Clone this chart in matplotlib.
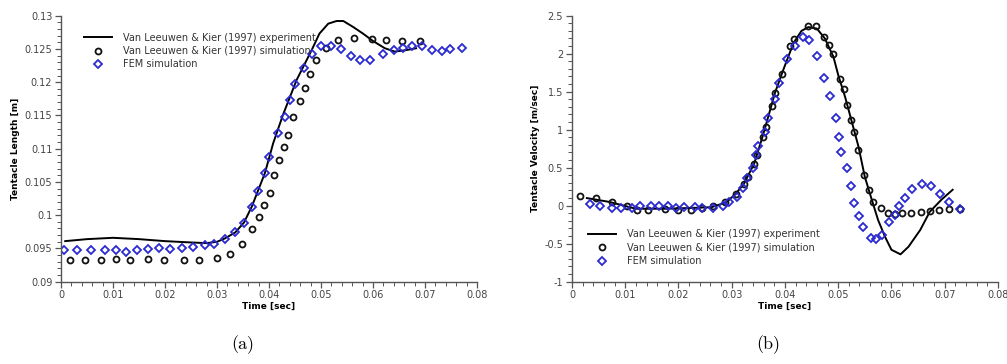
import numpy as np
import matplotlib
matplotlib.use("Agg")
import matplotlib.pyplot as plt
from matplotlib.ticker import MultipleLocator, FuncFormatter

# --- (a) tentacle length ---
len_exp_t = [0.0008, 0.005, 0.01, 0.015, 0.02, 0.025, 0.028, 0.030, 0.0315, 0.0335,
             0.0352, 0.0367, 0.0379, 0.0392, 0.0401, 0.0408, 0.0427, 0.0453, 0.0482,
             0.0497, 0.0514, 0.0530, 0.0543, 0.0562, 0.0581, 0.0600, 0.0623, 0.0642,
             0.0662, 0.0683]
len_exp_y = [0.0961, 0.0964, 0.0966, 0.0964, 0.0961, 0.0959, 0.0958, 0.0960, 0.0965, 0.0974,
             0.0989, 0.1013, 0.1037, 0.1063, 0.1088, 0.1108, 0.1151, 0.1203, 0.1248,
             0.1273, 0.1288, 0.1292, 0.1292, 0.1283, 0.1273, 0.1262, 0.1251, 0.1246,
             0.1248, 0.1251]

len_sim_t = [0.0017, 0.0047, 0.0077, 0.0106, 0.0133, 0.0167, 0.0199, 0.0237, 0.0266, 0.0300,
             0.0325, 0.0349, 0.0368, 0.0381, 0.0391, 0.0402, 0.0410, 0.0420, 0.0429, 0.0437,
             0.0447, 0.0459, 0.0470, 0.0479, 0.0491, 0.0509, 0.0532, 0.0563, 0.0598, 0.0625,
             0.0655, 0.0691]
len_sim_y = [0.0932, 0.0932, 0.0933, 0.0934, 0.0933, 0.0934, 0.0933, 0.0933, 0.0933, 0.0935,
             0.0942, 0.0956, 0.0979, 0.0997, 0.1016, 0.1034, 0.1060, 0.1083, 0.1102, 0.1121,
             0.1148, 0.1171, 0.1192, 0.1212, 0.1233, 0.1252, 0.1264, 0.1267, 0.1265, 0.1263,
             0.1262, 0.1262]

len_fem_t = [0.0006, 0.0031, 0.0057, 0.0085, 0.0105, 0.0125, 0.0147, 0.0168, 0.0188, 0.0209,
             0.0233, 0.0253, 0.0276, 0.0295, 0.0315, 0.0335, 0.0352, 0.0367, 0.0379, 0.0392,
             0.0401, 0.0418, 0.0430, 0.0440, 0.0451, 0.0467, 0.0483, 0.0501, 0.0519, 0.0538,
             0.0558, 0.0576, 0.0595, 0.0619, 0.0641, 0.0658, 0.0676, 0.0694, 0.0714, 0.0733,
             0.0749, 0.0771]
len_fem_y = [0.0948, 0.0948, 0.0948, 0.0947, 0.0947, 0.0945, 0.0948, 0.0949, 0.0951, 0.0949,
             0.0950, 0.0952, 0.0955, 0.0956, 0.0964, 0.0974, 0.0989, 0.1013, 0.1037, 0.1063,
             0.1088, 0.1123, 0.1147, 0.1173, 0.1197, 0.1222, 0.1242, 0.1254, 0.1254, 0.1250,
             0.1239, 0.1233, 0.1233, 0.1243, 0.1248, 0.1252, 0.1255, 0.1255, 0.1249, 0.1247,
             0.1250, 0.1252]

# --- (b) tentacle velocity ---
vel_exp_t = [0.0028, 0.0070, 0.012, 0.018, 0.0262, 0.029, 0.0308, 0.0323, 0.0342, 0.0358,
             0.0371, 0.0381, 0.0397, 0.0416, 0.0431, 0.0444, 0.0460, 0.0475, 0.0491, 0.0500,
             0.0513, 0.0528, 0.0538, 0.0550, 0.0563, 0.0575, 0.0588, 0.0600, 0.0617, 0.0632,
             0.0654, 0.0672, 0.0694, 0.0715]
vel_exp_v = [0.10, 0.05, -0.04, -0.04, -0.02, 0.045, 0.16, 0.29, 0.55, 0.91,
             1.23, 1.48, 1.79, 2.14, 2.30, 2.35, 2.33, 2.20, 1.96, 1.72,
             1.43, 1.04, 0.78, 0.38, 0.08, -0.19, -0.41, -0.58, -0.64, -0.54,
             -0.32, -0.08, 0.08, 0.21]

vel_sim_t = [0.0016, 0.0045, 0.0076, 0.0103, 0.0123, 0.0143, 0.0175, 0.0200, 0.0223, 0.0245,
             0.0265, 0.0287, 0.0308, 0.0323, 0.0331, 0.0342, 0.0347, 0.0358, 0.0364, 0.0375,
             0.0381, 0.0394, 0.0409, 0.0417, 0.0444, 0.0458, 0.0473, 0.0483, 0.0490, 0.0503,
             0.0510, 0.0517, 0.0524, 0.0530, 0.0538, 0.0548, 0.0558, 0.0566, 0.0580, 0.0594,
             0.0607, 0.0620, 0.0637, 0.0655, 0.0672, 0.0689, 0.0709, 0.0729]
vel_sim_v = [0.13, 0.10, 0.05, 0.00, -0.06, -0.06, -0.05, -0.06, -0.06, -0.03,
             -0.01, 0.05, 0.16, 0.29, 0.38, 0.55, 0.67, 0.91, 1.03, 1.31,
             1.48, 1.73, 2.10, 2.19, 2.37, 2.36, 2.22, 2.11, 2.00, 1.67,
             1.53, 1.32, 1.13, 0.97, 0.73, 0.41, 0.20, 0.05, -0.03, -0.09,
             -0.11, -0.10, -0.09, -0.08, -0.07, -0.06, -0.05, -0.05]

vel_fem_t = [0.0034, 0.0053, 0.0075, 0.0093, 0.0113, 0.0128, 0.0148, 0.0163, 0.0180, 0.0195,
             0.0211, 0.0231, 0.0245, 0.0264, 0.0283, 0.0295, 0.0309, 0.0321, 0.0329, 0.0340,
             0.0345, 0.0349, 0.0362, 0.0369, 0.0381, 0.0389, 0.0404, 0.0419, 0.0433, 0.0446,
             0.0461, 0.0474, 0.0485, 0.0495, 0.0502, 0.0506, 0.0516, 0.0524, 0.0530, 0.0540,
             0.0546, 0.0561, 0.0571, 0.0582, 0.0596, 0.0607, 0.0614, 0.0625, 0.0638, 0.0657,
             0.0675, 0.0691, 0.0709, 0.0729]
vel_fem_v = [0.02, -0.01, -0.03, -0.03, -0.03, -0.01, 0.00, -0.01, -0.01, -0.03,
             -0.02, -0.02, -0.03, -0.03, 0.00, 0.05, 0.12, 0.23, 0.36, 0.49,
             0.67, 0.78, 0.97, 1.15, 1.40, 1.62, 1.93, 2.10, 2.22, 2.18,
             1.97, 1.68, 1.44, 1.15, 0.90, 0.71, 0.49, 0.26, 0.03, -0.14,
             -0.28, -0.42, -0.44, -0.39, -0.22, -0.12, 0.00, 0.10, 0.22, 0.28,
             0.26, 0.16, 0.05, -0.05]

labels = ["Van Leeuwen & Kier (1997) experiment",
          "Van Leeuwen & Kier (1997) simulation",
          "FEM simulation"]

fem_color = "#2a2ad0"
tick_color = "#444444"
fs = 6.5

fig = plt.figure(figsize=(10.07, 3.64), dpi=100)
ax1 = fig.add_axes([0.0606, 0.2261, 0.413, 0.7308])
ax2 = fig.add_axes([0.568, 0.2261, 0.423, 0.7308])

fmt = FuncFormatter(lambda v, p: ("%g" % round(v, 6)).replace("\u2212", "-"))


def style(ax):
    for s in ["top", "right"]:
        ax.spines[s].set_visible(False)
    for s in ["left", "bottom"]:
        ax.spines[s].set_color("#555555")
        ax.spines[s].set_linewidth(1.0)
    ax.tick_params(which="major", direction="out", length=4.3, width=0.9,
                   colors="#555555", labelcolor=tick_color, labelsize=fs + 0.5, pad=2)
    ax.tick_params(which="minor", direction="out", length=2.6, width=0.7, colors="#555555")
    ax.xaxis.set_major_formatter(fmt)
    ax.yaxis.set_major_formatter(fmt)
    ax.set_xlim(0, 0.08)
    ax.xaxis.set_major_locator(MultipleLocator(0.01))
    ax.xaxis.set_minor_locator(MultipleLocator(0.002))
    ax.set_xlabel("Time [sec]", fontsize=fs, fontweight="bold", labelpad=1)


def draw(ax, t_exp, y_exp, t_sim, y_sim, t_fem, y_fem):
    ax.plot(t_exp, y_exp, color="black", lw=1.4, label=labels[0])
    ax.plot(t_sim, y_sim, ls="none", marker="o", ms=4.3, mfc="none", mec="#111111",
            mew=1.3, label=labels[1])
    ax.plot(t_fem, y_fem, ls="none", marker="D", ms=3.6, mfc="none", mec=fem_color,
            mew=1.3, label=labels[2])


draw(ax1, len_exp_t, len_exp_y, len_sim_t, len_sim_y, len_fem_t, len_fem_y)
style(ax1)
ax1.set_ylim(0.09, 0.13)
ax1.yaxis.set_major_locator(MultipleLocator(0.005))
ax1.yaxis.set_minor_locator(MultipleLocator(0.001))
ax1.set_ylabel("Tentacle Length [m]", fontsize=fs, fontweight="bold", labelpad=3)
leg1 = ax1.legend(loc="upper left", bbox_to_anchor=(0.043, 0.955), frameon=False,
                  fontsize=fs + 0.5, borderpad=0, handlelength=2.9, handletextpad=1.1,
                  labelspacing=0.35)

draw(ax2, vel_exp_t, vel_exp_v, vel_sim_t, vel_sim_v, vel_fem_t, vel_fem_v)
style(ax2)
ax2.set_ylim(-1, 2.5)
ax2.yaxis.set_major_locator(MultipleLocator(0.5))
ax2.yaxis.set_minor_locator(MultipleLocator(0.1))
ax2.set_ylabel("Tentacle Velocity [m/sec]", fontsize=fs, fontweight="bold", labelpad=3)
leg2 = ax2.legend(loc="lower left", bbox_to_anchor=(0.026, 0.04), frameon=False,
                  fontsize=fs + 0.5, borderpad=0, handlelength=2.9, handletextpad=1.1,
                  labelspacing=0.35)

for leg in (leg1, leg2):
    for txt in leg.get_texts():
        txt.set_color("#333333")

fig.text(0.2413, 0.052, "(a)", fontfamily="cmr10", fontsize=13, ha="center", va="center")
fig.text(0.7627, 0.052, "(b)", fontfamily="cmr10", fontsize=13, ha="center", va="center")

fig.savefig("out.png", dpi=100)
